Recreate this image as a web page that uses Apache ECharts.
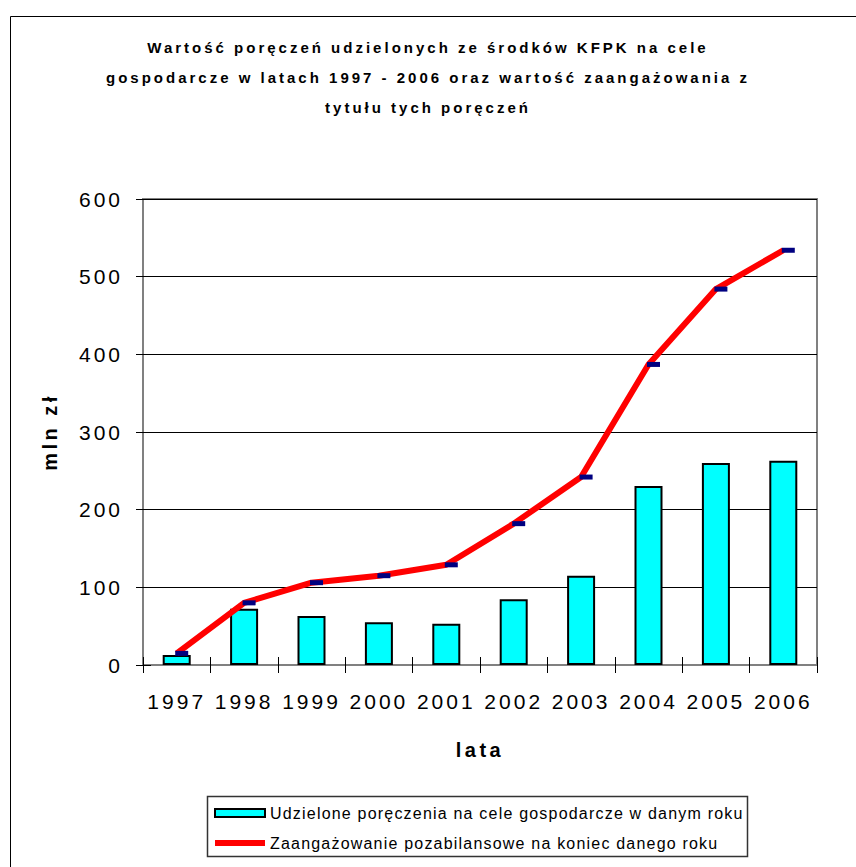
<!DOCTYPE html>
<html>
<head>
<meta charset="utf-8">
<script src="https://cdn.jsdelivr.net/npm/echarts@6/dist/echarts.min.js"></script>
<style>
  html, body { margin: 0; padding: 0; background: #fff; }
  #chart { width: 856px; height: 867px; }
  #chart text[style*="15px"] { letter-spacing: 3px; }
  #chart text[style*="21px"] { letter-spacing: 3px; }
  #chart text[style*="20px"] { letter-spacing: 3.5px; }
  #chart text[style*="16px"] { letter-spacing: 1.2px; }
</style>
</head>
<body>
<div id="chart"></div>
<script>
const titleText = 'Wartość poręczeń udzielonych ze środków KFPK na cele\ngospodarcze w latach 1997 - 2006 oraz wartość zaangażowania z\ntytułu tych poręczeń';
const years = ['1997', '1998', '1999', '2000', '2001', '2002', '2003', '2004', '2005', '2006'];
const barName = 'Udzielone poręczenia na cele gospodarcze w danym roku';
const lineName = 'Zaangażowanie pozabilansowe na koniec danego roku';
const barValues = [13, 72.5, 63, 55, 53, 84.5, 115, 230.5, 260, 263];
const lineValues = [15, 80, 106, 115, 129, 182, 242, 387, 484, 534];
const yAxisName = 'mln zł';
const xAxisName = 'lata';

const FONT = 'Liberation Sans';
const chart = echarts.init(document.getElementById('chart'), null, { renderer: 'svg' });

chart.setOption({
  backgroundColor: '#ffffff',
  animation: false,
  title: {
    text: titleText,
    left: 'center',
    top: 32,
    padding: [0, 0, 0, 17],
    textStyle: {
      fontFamily: FONT,
      fontSize: 15,
      fontWeight: 'bold',
      color: '#000',
      lineHeight: 30
    }
  },
  graphic: [
    {
      type: 'rect',
      shape: { x: 10.5, y: 16.5, width: 900, height: 900 },
      style: { fill: 'none', stroke: '#000', lineWidth: 1 },
      silent: true, z: -10
    },
    {
      type: 'rect',
      shape: { x: 207.5, y: 796.5, width: 540, height: 60 },
      style: { fill: 'none', stroke: '#333', lineWidth: 1.5 },
      silent: true
    }
  ],
  legend: {
    orient: 'vertical',
    left: 207,
    top: 796,
    padding: [8, 5, 5, 7],
    itemGap: 12,
    itemWidth: 50,
    itemHeight: 8,
    selectedMode: false,
    textStyle: { fontFamily: FONT, fontSize: 16, lineHeight: 18, color: '#000' },
    data: [
      { name: barName, icon: 'rect' },
      {
        name: lineName,
        icon: 'path://M0 0L0 0M0 1L50 1L50 7L0 7ZM0 8L0 8',
        itemStyle: { color: '#ff0000', borderWidth: 0 }
      }
    ]
  },
  grid: {
    left: 143, top: 199, width: 674, height: 466,
    show: true,
    borderColor: '#808080',
    borderWidth: 2,
    containLabel: false,
    outerBoundsMode: 'none'
  },
  xAxis: [
    {
      type: 'category',
      data: years,
      boundaryGap: true,
      name: xAxisName,
      nameLocation: 'middle',
      nameGap: 75,
      nameTextStyle: { fontFamily: FONT, fontSize: 20, fontWeight: 'bold', color: '#000' },
      axisLine: { show: true, lineStyle: { color: '#808080', width: 2 } },
      axisTick: { show: true, inside: false, length: 8, alignWithLabel: false, interval: 0, lineStyle: { color: '#000', width: 1 } },
      axisLabel: { interval: 0, margin: 26, fontFamily: FONT, fontSize: 21, color: '#000' },
      splitLine: { show: false }
    },
    {
      type: 'category',
      data: years,
      boundaryGap: true,
      position: 'bottom',
      axisLine: { show: false },
      axisTick: { show: true, inside: true, length: 8, alignWithLabel: false, interval: 0, lineStyle: { color: '#000', width: 1 } },
      axisLabel: { show: false },
      splitLine: { show: false }
    }
  ],
  yAxis: [
    {
      type: 'value',
      min: 0, max: 600, interval: 100,
      name: yAxisName,
      nameLocation: 'middle',
      nameGap: 83,
      nameTextStyle: { fontFamily: FONT, fontSize: 20, fontWeight: 'bold', color: '#000' },
      axisLine: { show: true, lineStyle: { color: '#808080', width: 2 } },
      axisTick: { show: true, inside: false, length: 7, lineStyle: { color: '#000', width: 1 } },
      axisLabel: { margin: 20, fontFamily: FONT, fontSize: 21, color: '#000' },
      splitLine: { show: true, lineStyle: { color: '#000', width: 1 } }
    },
    {
      type: 'value',
      min: 0, max: 600, interval: 100,
      position: 'left',
      offset: 0,
      axisLine: { show: false },
      axisTick: { show: true, inside: true, length: 8, lineStyle: { color: '#000', width: 1 } },
      axisLabel: { show: false },
      splitLine: { show: false }
    }
  ],
  series: [
    {
      name: barName,
      type: 'bar',
      data: barValues,
      barWidth: 28,
      itemStyle: { color: '#00ffff', borderColor: '#000', borderWidth: 2 },
      z: 2
    },
    {
      name: lineName,
      type: 'line',
      data: lineValues,
      lineStyle: { color: '#ff0000', width: 6 },
      itemStyle: { color: '#000080', borderWidth: 0 },
      symbol: 'rect',
      symbolSize: [13, 5],
      symbolOffset: [5, 0],
      showSymbol: true,
      z: 3
    }
  ]
});
</script>
</body>
</html>
